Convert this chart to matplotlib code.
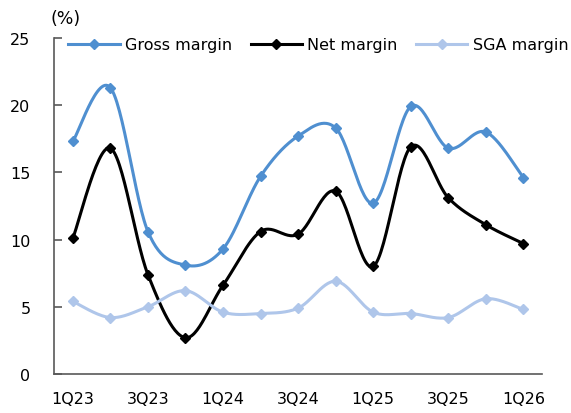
import numpy as np
import matplotlib
matplotlib.use("Agg")
import matplotlib.pyplot as plt
from matplotlib.lines import Line2D

quarters = ["1Q23", "2Q23", "3Q23", "4Q23", "1Q24", "2Q24", "3Q24",
            "4Q24", "1Q25", "2Q25", "3Q25", "4Q25", "1Q26"]
gross_margin = [17.3, 21.3, 10.6, 8.1, 9.3, 14.7, 17.7, 18.3, 12.7, 19.9, 16.8, 18.0, 14.6]
net_margin = [10.1, 16.8, 7.4, 2.7, 6.6, 10.6, 10.4, 13.6, 8.0, 16.9, 13.1, 11.1, 9.7]
sga_margin = [5.4, 4.2, 5.0, 6.2, 4.6, 4.5, 4.9, 6.9, 4.6, 4.5, 4.2, 5.6, 4.8]

series = [
    ("Gross margin", gross_margin, "#4F8FD0"),
    ("Net margin", net_margin, "#000000"),
    ("SGA margin", sga_margin, "#AFC6EA"),
]


def smooth(xs, ys, n=30):
    # Excel-style smoothed line: cubic bezier with Catmull-Rom control points
    pts = np.column_stack([xs, ys]).astype(float)
    pad = np.vstack([pts[0], pts, pts[-1]])
    out = [pts[:1]]
    t = np.linspace(0, 1, n)[1:, None]
    for i in range(len(pts) - 1):
        p0, p3 = pad[i + 1], pad[i + 2]
        c1 = p0 + (pad[i + 2] - pad[i]) / 6.0
        c2 = p3 - (pad[i + 3] - pad[i + 1]) / 6.0
        seg = ((1 - t) ** 3) * p0 + 3 * ((1 - t) ** 2) * t * c1 + 3 * (1 - t) * t ** 2 * c2 + t ** 3 * p3
        out.append(seg)
    arr = np.vstack(out)
    return arr[:, 0], arr[:, 1]


plt.rcParams["font.family"] = ["DejaVu Sans"]
fig = plt.figure(figsize=(5.71, 4.14), dpi=100)
ax = fig.add_axes([0.0946, 0.0942, 0.855, 0.8118])

x = np.arange(len(quarters))
handles = []
for name, vals, color in series:
    sx, sy = smooth(x, vals)
    ax.plot(sx, sy, color=color, lw=2.2, zorder=3)
    ax.plot(x, vals, ls="none", marker="D", ms=5.5, color=color, zorder=4)
    handles.append(Line2D([], [], color=color, lw=2.2, marker="D", ms=5.5, label=name))

ax.set_xlim(-0.5, len(quarters) - 0.5)
ax.set_ylim(0, 25)
ax.set_yticks([0, 5, 10, 15, 20, 25])
ax.set_xticks(x[::2])
ax.set_xticklabels(quarters[::2])
ax.tick_params(axis="y", direction="in", length=6, width=1.2, color="#595959",
               labelsize=11.5, pad=17)
ax.tick_params(axis="x", length=0, labelsize=11.5, pad=12)

for side in ["top", "right"]:
    ax.spines[side].set_visible(False)
ax.spines["left"].set_color("#595959")
ax.spines["bottom"].set_color("#595959")
ax.spines["left"].set_linewidth(1.2)
ax.spines["bottom"].set_linewidth(1.2)

ax.legend(handles=handles, loc="upper left", bbox_to_anchor=(0.01, 1.03), ncol=3,
          frameon=False, fontsize=11.5, handlelength=3.2, handletextpad=0.35,
          columnspacing=1.15, borderaxespad=0.2)

fig.text(0.115, 0.953, "(%)", ha="center", va="center", fontsize=12.5)

fig.savefig("out.png", dpi=100)
